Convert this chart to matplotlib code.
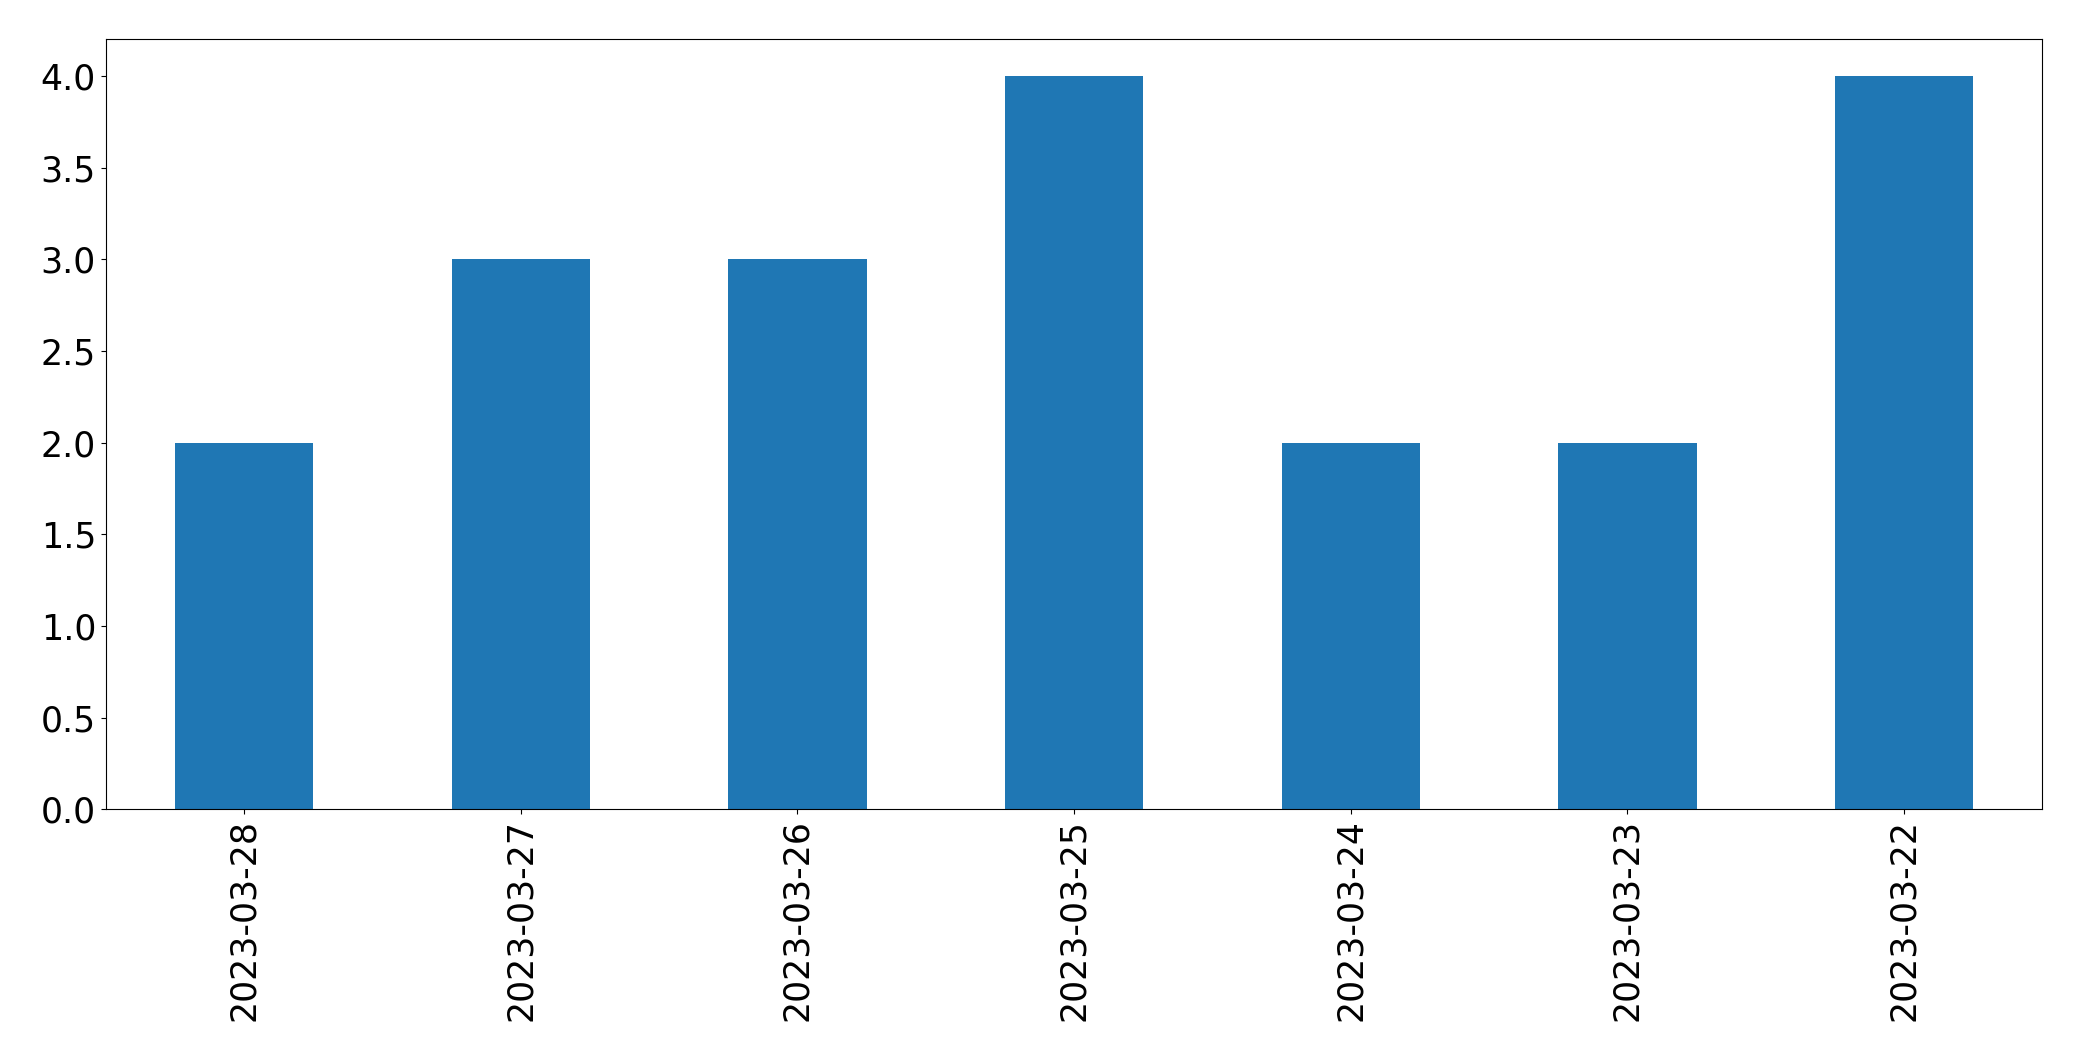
import matplotlib
matplotlib.use("Agg")
import matplotlib.pyplot as plt
import pandas as pd

dates = ["2023-03-28", "2023-03-27", "2023-03-26", "2023-03-25",
         "2023-03-24", "2023-03-23", "2023-03-22"]
counts = [2, 3, 3, 4, 2, 2, 4]

s = pd.Series(counts, index=dates)
fig = plt.figure(figsize=(20.82, 10.61), dpi=100)
ax = fig.add_axes([0.0508, 0.2373, 0.9302, 0.7257])
s.plot(kind="bar", ax=ax, color="#1f77b4", width=0.5)
ax.tick_params(axis="both", labelsize=25)
fig.savefig("out.png", dpi=100)
